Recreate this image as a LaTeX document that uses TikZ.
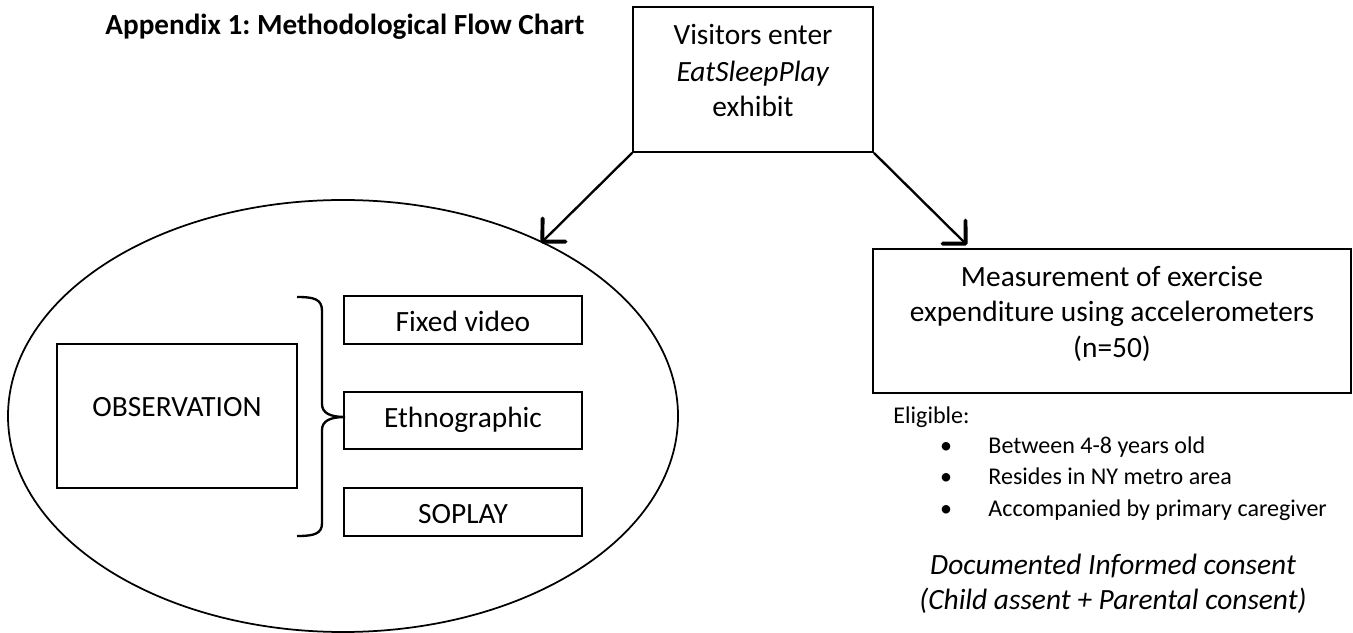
\documentclass[tikz,border=0pt]{standalone}
\usepackage{fontspec}
\setmainfont{Carlito}
\usetikzlibrary{shapes.geometric,arrows.meta}
\def\pxu{0.428571pt}
\frenchspacing
\begin{document}
\frenchspacing
\begin{tikzpicture}[x=0.428571pt, y=-0.428571pt,
  box/.style={draw, line width=0.75pt, inner sep=0pt},
  bw/.style={minimum width=#1*\pxu},
  bh/.style={minimum height=#1*\pxu},
  txt/.style={anchor=base, inner sep=0pt, font=\fontsize{12.6pt}{15pt}\selectfont},
  small/.style={anchor=base, inner sep=0pt, font=\fontsize{10.3pt}{12pt}\selectfont},
  arr/.style={line width=1pt, -{Straight Barb[length=7pt, width=14pt, line width=1.7pt, round]}},
  brace/.style={line width=1pt}
]
\useasboundingbox (0,0) rectangle (1353,633);

% title
\node[anchor=base west, inner sep=0pt, font=\fontsize{12.5pt}{15pt}\selectfont\bfseries] (title) at (105,35) {Appendix 1: Methodological Flow Chart};

% top box
\node[box, bw=240, bh=145] (vis) at (753,79.5) {};
\node[txt] (vis1) at (753,45) {Visitors enter};
\node[txt] (vis2) at (753,82) {\textit{EatSleepPlay}};
\node[txt] (vis3) at (753,117) {exhibit};

% ellipse
\node[draw, ellipse, line width=0.75pt, inner sep=0pt, minimum width=670*\pxu, minimum height=432*\pxu] (ell) at (343,416) {};

% observation
\node[box, bw=240, bh=144] (obs) at (177,416) {};
\node[txt] (obst) at (177,417) {OBSERVATION};

% three boxes
\node[box, bw=238, bh=48] (fix) at (463,320) {};
\node[txt] (fixt) at (463,332) {Fixed video};
\node[box, bw=238, bh=57] (eth) at (463,420.5) {};
\node[txt] (etht) at (463,428) {Ethnographic};
\node[box, bw=238, bh=48] (sop) at (463,512) {};
\node[txt] (sopt) at (463,524) {SOPLAY};

% brace
\coordinate (btop) at (297,297);
\coordinate (bbot) at (297,536);
\coordinate (btip) at (345,417);
\draw[brace] (btop) .. controls (314,297) and (322,299) .. (322,311)
  -- (322,404) .. controls (322,413) and (330,417) .. (btip)
  .. controls (330,417) and (322,421) .. (322,430)
  -- (322,523) .. controls (322,534) and (314,536) .. (bbot);

% measurement box
\node[box, bw=478, bh=144] (meas) at (1112,321) {};
\node[txt] (meas1) at (1112,287) {Measurement of exercise};
\node[txt] (meas2) at (1112,322) {expenditure using accelerometers};
\node[txt] (meas3) at (1112,358) {(n=50)};

% arrows
\coordinate (tipL) at (541,243);
\coordinate (tipR) at (967,245);
\draw[arr] (vis.south west) -- (tipL);
\draw[arr] (vis.south east) -- (tipR);

% eligibility
\node[small, anchor=base west] (elig) at (893,424) {Eligible:};
\node[small] (b1) at (946,454) {•};
\node[small, anchor=base west] (l1) at (988,454) {Between 4-8 years old};
\node[small] (b2) at (946,485) {•};
\node[small, anchor=base west] (l2) at (988,485) {Resides in NY metro area};
\node[small] (b3) at (946,516) {•};
\node[small, anchor=base west] (l3) at (988,516) {Accompanied by primary caregiver};

% consent
\node[txt, font=\fontsize{12.6pt}{15pt}\selectfont\itshape] (c1) at (1113,574) {Documented Informed consent};
\node[txt, font=\fontsize{12.6pt}{15pt}\selectfont\itshape] (c2) at (1113,609) {(Child assent + Parental consent)};
\end{tikzpicture}
\end{document}
